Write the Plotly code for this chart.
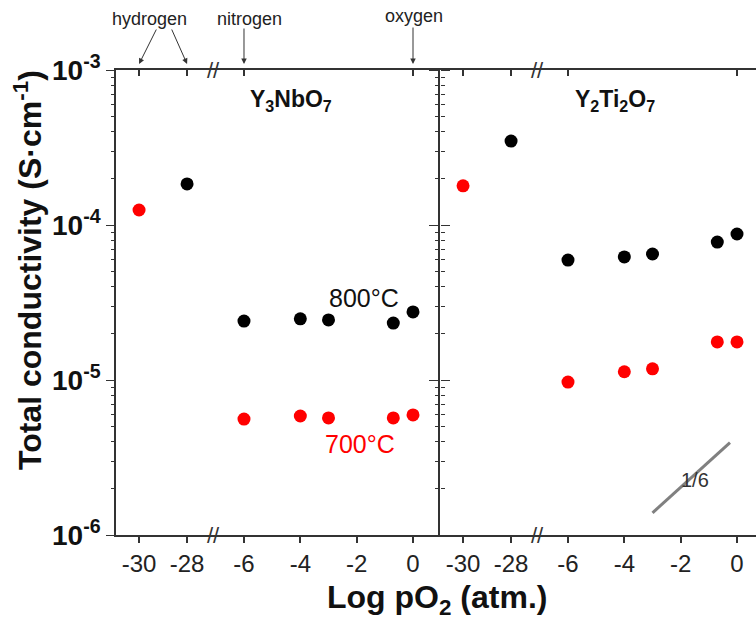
import plotly.graph_objects as go

# ---------------- data ----------------
# Y3NbO7 panel
nb_800_x = [-28, -6, -4, -3, -0.7, 0]
nb_800_y = [1.84e-4, 2.40e-5, 2.48e-5, 2.44e-5, 2.33e-5, 2.75e-5]
nb_700_x = [-30, -6, -4, -3, -0.7, 0]
nb_700_y = [1.25e-4, 5.6e-6, 5.86e-6, 5.69e-6, 5.69e-6, 5.95e-6]
# Y2Ti2O7 panel
ti_800_x = [-28, -6, -4, -3, -0.7, 0]
ti_800_y = [3.48e-4, 5.94e-5, 6.22e-5, 6.5e-5, 7.76e-5, 8.75e-5]
ti_700_x = [-30, -6, -4, -3, -0.7, 0]
ti_700_y = [1.79e-4, 9.7e-6, 1.13e-5, 1.18e-5, 1.76e-5, 1.76e-5]
# slope guide (1/6)
slope_x = [-3.0, -0.25]
slope_y = [1.39e-6, 3.95e-6]

y_major = [1e-6, 1e-5, 1e-4, 1e-3]
y_major_text = ["<b>10<sup>-6</sup></b>", "<b>10<sup>-5</sup></b>",
                "<b>10<sup>-4</sup></b>", "<b>10<sup>-3</sup></b>"]
y_minor = [m * d for d in (1e-6, 1e-5, 1e-4) for m in range(2, 10)]

hyd_ticks = [-30, -28]
low_ticks = [-6, -4, -2, 0]
top_hyd = [-30, -28]
top_low = [-6, 0]

# ---------------- layout constants ----------------
W, H = 756, 626
L, R, T, B = 116, 0, 70, 91
PW, PH = W - L - R, H - T - B


def px(x):
    return (x - L) / PW


def py(y):
    return (H - B - y) / PH


doms = [[0, px(213)], [px(213), px(440)], [px(440), px(537)], [px(537), 1]]
r_hyd = [-30.96, -26.92]
r_low = [-7.10, 0.958]
r_low_cut = [-7.10, 0.674]
ranges = [r_hyd, r_low, r_hyd, r_low_cut]
bottom_ticks = [hyd_ticks, low_ticks, hyd_ticks, low_ticks]
top_ticks = [top_hyd, top_low, top_hyd, top_low]
XS = ["x", "x2", "x3", "x4"]
YS = ["y", "y2", "y3", "y4"]

AX = "#333333"
FONT = "Liberation Sans, Arial, sans-serif"
yrange = [-6, -3]

fig = go.Figure()
mk = dict(size=13, line=dict(width=0))


def add(x, y, color, seg):
    fig.add_trace(go.Scatter(x=x, y=y, mode="markers", xaxis=XS[seg], yaxis=YS[seg],
                             marker=dict(color=color, **mk), showlegend=False))


def split(xs, ys, hyd):
    return ([x for x in xs if (x < -20) == hyd], [y for x, y in zip(xs, ys) if (x < -20) == hyd])


for xs, ys, col in [(nb_800_x, nb_800_y, "black"), (nb_700_x, nb_700_y, "#ff0000")]:
    a, b = split(xs, ys, True)
    add(a, b, col, 0)
    a, b = split(xs, ys, False)
    add(a, b, col, 1)
for xs, ys, col in [(ti_800_x, ti_800_y, "black"), (ti_700_x, ti_700_y, "#ff0000")]:
    a, b = split(xs, ys, True)
    add(a, b, col, 2)
    a, b = split(xs, ys, False)
    add(a, b, col, 3)

fig.add_trace(go.Scatter(x=slope_x, y=slope_y, mode="lines", xaxis="x4", yaxis="y4",
                         line=dict(color="#808080", width=3), showlegend=False,
                         hoverinfo="skip"))

lay = {}
for i in range(4):
    xk = "xaxis" if i == 0 else f"xaxis{i+1}"
    lay[xk] = dict(domain=doms[i], range=ranges[i], anchor=YS[i], side="bottom",
                   showline=True, linecolor=AX, linewidth=1.5, ticks="outside", ticklen=6,
                   tickwidth=1.5, tickcolor=AX, tickmode="array", tickvals=bottom_ticks[i],
                   ticktext=[str(v) for v in bottom_ticks[i]],
                   tickfont=dict(size=24, color="#222", family=FONT),
                   showgrid=False, zeroline=False)
    # top axis (ticks pointing inward), overlaying the bottom one
    lay[f"xaxis{i+5}"] = dict(overlaying=XS[i], domain=doms[i], range=ranges[i],
                              anchor=YS[i], side="top", showline=True, linecolor=AX,
                              linewidth=1.5, ticks="inside", ticklen=6, tickwidth=1.5,
                              tickcolor=AX, tickmode="array", tickvals=top_ticks[i],
                              showticklabels=False, showgrid=False, zeroline=False)
    fig.add_trace(go.Scatter(x=[ranges[i][0]], y=[1e-6], xaxis=f"x{i+5}", yaxis=YS[i],
                             mode="markers", marker=dict(opacity=0), hoverinfo="skip",
                             showlegend=False))


def ydef(anchor, side, ticks, vals, length, line, labels=False, over=None):
    d = dict(type="log", range=yrange, domain=[0, 1], anchor=anchor, side=side,
             showline=line, linecolor=AX, linewidth=1.5, ticks=ticks, ticklen=length,
             tickwidth=1.4, tickcolor=AX, tickmode="array", tickvals=vals,
             showticklabels=labels, showgrid=False, zeroline=False)
    if over:
        d["overlaying"] = over
    return d


lay["yaxis"] = ydef("x", "left", "outside", y_major, 8, True, labels=True)
lay["yaxis"].update(ticktext=y_major_text, tickfont=dict(size=28, color="#111", family=FONT))
lay["yaxis2"] = ydef("x2", "right", "outside", y_major, 9, False)
lay["yaxis3"] = ydef("x3", "left", "outside", y_major, 9, True)
lay["yaxis4"] = ydef("x4", "left", "", y_major, 0, False)
# minor ticks via overlaid axes
lay["yaxis5"] = ydef("x", "left", "outside", y_minor, 4, False, over="y")
lay["yaxis6"] = ydef("x2", "right", "outside", y_minor, 4, False, over="y2")
lay["yaxis7"] = ydef("x3", "left", "outside", y_minor, 4, False, over="y3")
for xa, ya in (("x", "y5"), ("x2", "y6"), ("x3", "y7")):
    rng = ranges[XS.index(xa)]
    fig.add_trace(go.Scatter(x=[rng[0]], y=[1e-6], xaxis=xa, yaxis=ya, mode="markers",
                             marker=dict(opacity=0), hoverinfo="skip", showlegend=False))

fig.update_layout(width=W, height=H, margin=dict(l=L, r=R, t=T, b=B),
                  paper_bgcolor="white", plot_bgcolor="white",
                  font=dict(family=FONT, color="#111"), **lay)

ann = []
# axis break marks
for bx in (213, 537):
    for by in (0, 1):
        ann.append(dict(xref="paper", yref="paper", x=px(bx), y=by, text="//",
                        showarrow=False, font=dict(size=22, color=AX, family=FONT),
                        xanchor="center", yanchor="middle"))
# gas labels
lab = dict(showarrow=False, font=dict(size=18, color="#222", family=FONT),
           xref="paper", yref="paper", xanchor="center", yanchor="middle")
ann.append(dict(x=px(149), y=py(19), text="hydrogen", **lab))
ann.append(dict(x=px(249), y=py(19), text="nitrogen", **lab))
ann.append(dict(x=px(414), y=py(16), text="oxygen", **lab))
arr = dict(showarrow=True, arrowhead=2, arrowsize=1.1, arrowwidth=1, arrowcolor="#333",
           text="", yref="paper", y=py(64), standoff=0)
ann.append(dict(xref="x", x=-30, ax=18, ay=-36, **arr))
ann.append(dict(xref="x", x=-28, ax=-16, ay=-36, **arr))
ann.append(dict(xref="x2", x=-6, ax=0, ay=-37, **arr))
ann.append(dict(xref="x2", x=0, ax=0, ay=-38, **arr))
# panel titles
ttl = dict(showarrow=False, font=dict(size=23, color="#111", family=FONT),
           xref="paper", yref="paper", xanchor="center", yanchor="middle")
ann.append(dict(x=px(291), y=py(100), text="<b>Y<sub>3</sub>NbO<sub>7</sub></b>", **ttl))
ann.append(dict(x=px(615), y=py(100), text="<b>Y<sub>2</sub>Ti<sub>2</sub>O<sub>7</sub></b>", **ttl))
# temperature labels
ann.append(dict(xref="paper", yref="paper", x=px(364), y=py(298), text="800°C",
                showarrow=False, yanchor="middle",
                font=dict(size=25, color="#111", family=FONT)))
ann.append(dict(xref="paper", yref="paper", x=px(360), y=py(428), text="700°C",
                showarrow=False, yanchor="top",
                font=dict(size=25, color="#ff0000", family=FONT)))
# slope label
ann.append(dict(xref="paper", yref="paper", x=px(711), y=py(493), text="1/6",
                showarrow=False, font=dict(size=20, color="#333", family=FONT)))
# axis titles
ann.append(dict(xref="paper", yref="paper", x=px(437), y=py(600),
                text="<b>Log pO<sub>2</sub> (atm.)</b>", showarrow=False,
                font=dict(size=32, color="#111", family=FONT),
                xanchor="center", yanchor="middle"))
ann.append(dict(xref="paper", yref="paper", x=px(28), y=py(270),
                text="<b>Total conductivity (S·cm<sup>-1</sup>)</b>", showarrow=False,
                textangle=-90, font=dict(size=32, color="#111", family=FONT),
                xanchor="center", yanchor="middle"))
fig.update_layout(annotations=ann)

fig.write_html("out.html")
